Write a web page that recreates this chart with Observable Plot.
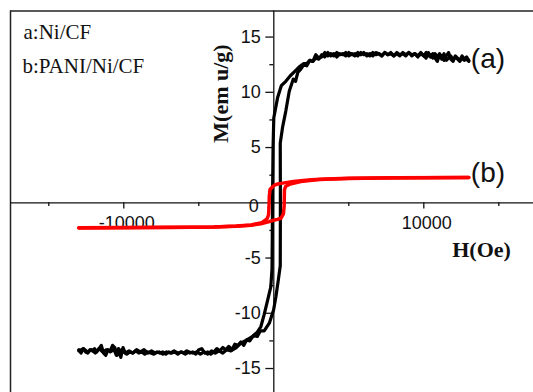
<!DOCTYPE html>
<html><head><meta charset="utf-8">
<script src="https://cdn.jsdelivr.net/npm/d3@7"></script>
<script src="https://cdn.jsdelivr.net/npm/@observablehq/plot@0.6"></script>
<style>html,body{margin:0;padding:0;background:#fff} svg{display:block}</style>
</head><body><div id="chart"></div>
<script>
// Sample a: Ni/CF hysteresis loop, [H (Oe), M (emu/g)]
const aDescending = [[13000,12.9],[12850,13.2],[12700,13.0],[12550,13.3],[12400,12.9],[12250,13.1],[12100,13.3],[11950,12.8],[11800,13.0],[11650,13.6],[11500,13.3],[11350,12.9],[11200,13.2],[11050,13.5],[10900,13.2],[10750,13.5],[10600,13.1],[10450,13.4],[10300,13.3],[10150,13.6],[10000,13.3],[9800,13.6],[9600,13.3],[9400,13.5],[9200,13.3],[9000,13.6],[8800,13.4],[8600,13.6],[8400,13.3],[8200,13.5],[8000,13.3],[7800,13.6],[7600,13.4],[7400,13.6],[7200,13.3],[7000,13.5],[6800,13.6],[6600,13.3],[6400,13.5],[6200,13.3],[6000,13.6],[5800,13.4],[5600,13.6],[5400,13.3],[5200,13.5],[5000,13.3],[4800,13.6],[4600,13.4],[4400,13.5],[4200,13.2],[4000,13.5],[3800,13.3],[3600,13.6],[3400,13.2],[3200,13.4],[3000,13.0],[2800,13.1],[2600,12.8],[2400,12.9],[2200,12.6],[2000,12.6],[1700,12.3],[1400,11.9],[1100,11.5],[800,11.0],[500,10.6],[250,9.5],[0,7.7],[-50,5.0],[-80,1.0],[-100,-3.0],[-120,-6.0],[-200,-7.6],[-410,-8.8],[-640,-10.1],[-860,-11.2],[-1100,-11.7],[-1410,-12.1],[-1800,-12.4],[-2190,-12.7],[-2500,-13.1],[-2860,-13.4],[-3150,-13.3],[-3400,-13.6],[-3650,-13.4],[-3900,-13.6],[-4150,-13.4],[-4400,-13.7],[-4650,-13.5],[-4900,-13.7],[-5150,-13.5],[-5400,-13.6],[-5650,-13.5],[-5900,-13.7],[-6150,-13.5],[-6400,-13.6],[-6650,-13.4],[-6900,-13.6],[-7150,-13.5],[-7400,-13.7],[-7650,-13.5],[-7900,-13.6],[-8150,-13.4],[-8400,-13.6],[-8650,-13.3],[-8900,-13.5],[-9150,-13.3],[-9400,-13.6],[-9650,-13.4],[-9900,-13.6],[-10050,-13.1],[-10200,-14.0],[-10350,-13.2],[-10500,-13.8],[-10650,-13.3],[-10900,-13.5],[-11150,-13.3],[-11400,-13.5],[-11650,-13.2],[-11900,-13.6],[-12150,-13.3],[-12400,-13.5],[-12700,-13.2],[-13000,-13.4]];
const aAscending = [[-13000,-13.3],[-12850,-13.6],[-12700,-13.2],[-12550,-13.5],[-12400,-13.6],[-12250,-13.3],[-12100,-13.4],[-11950,-13.2],[-11800,-13.5],[-11650,-13.2],[-11500,-12.9],[-11350,-13.6],[-11200,-13.8],[-11050,-13.3],[-10900,-13.4],[-10750,-12.9],[-10600,-13.1],[-10450,-13.8],[-10300,-13.6],[-10150,-13.3],[-10000,-13.5],[-9800,-13.7],[-9600,-13.5],[-9400,-13.6],[-9200,-13.4],[-9000,-13.6],[-8800,-13.5],[-8600,-13.7],[-8400,-13.5],[-8200,-13.6],[-8000,-13.7],[-7800,-13.5],[-7600,-13.6],[-7400,-13.5],[-7200,-13.7],[-7000,-13.5],[-6800,-13.6],[-6600,-13.5],[-6400,-13.7],[-6200,-13.5],[-6000,-13.6],[-5800,-13.4],[-5600,-13.6],[-5400,-13.5],[-5200,-13.7],[-5000,-13.3],[-4800,-13.2],[-4600,-13.6],[-4400,-13.5],[-4200,-13.7],[-4000,-13.5],[-3800,-13.2],[-3600,-13.4],[-3400,-13.1],[-3200,-13.3],[-3000,-13.0],[-2800,-13.3],[-2600,-12.8],[-2400,-12.9],[-2200,-12.6],[-2000,-12.9],[-1800,-12.4],[-1600,-12.5],[-1350,-12.0],[-1100,-12.1],[-900,-11.6],[-640,-11.6],[-300,-10.9],[-15,-9.7],[140,-8.5],[300,-7.0],[430,-5.7],[440,0],[430,5.4],[580,6.8],[800,8.3],[1030,10.1],[1300,11.2],[1450,11.0],[1600,11.8],[1800,12.1],[2000,12.5],[2200,12.4],[2400,12.9],[2600,12.8],[2800,13.4],[3000,13.1],[3200,13.2],[3400,13.6],[3600,13.3],[3800,13.5],[4000,13.3],[4200,13.6],[4400,13.4],[4600,13.5],[4800,13.3],[5000,13.6],[5200,13.4],[5400,13.5],[5600,13.3],[5800,13.6],[6000,13.4],[6200,13.5],[6400,13.3],[6600,13.6],[6800,13.4],[7000,13.5],[7200,13.3],[7400,13.6],[7600,13.4],[7800,13.5],[8000,13.3],[8200,13.6],[8400,13.4],[8600,13.5],[8800,13.3],[9000,13.6],[9200,13.4],[9400,13.5],[9600,13.2],[9800,13.5],[10000,13.3],[10150,13.1],[10300,13.6],[10450,13.2],[10600,13.5],[10750,13.1],[10900,12.8],[11050,13.4],[11200,13.0],[11350,13.5],[11500,12.9],[11650,13.1],[11800,13.3],[11950,12.9],[12100,13.2],[12250,13.0],[12400,12.8],[12550,13.1],[12700,12.9],[12850,13.0],[13000,12.8]];
// Sample b: PANI/Ni/CF hysteresis loop
const bDescending = [[13000,2.28],[10000,2.27],[7000,2.25],[5000,2.22],[3500,2.15],[2500,2.08],[1800,2.0],[1300,1.93],[900,1.85],[500,1.76],[250,1.7],[50,1.6],[-80,1.45],[-250,1.2],[-300,0.6],[-320,-0.4],[-350,-1.1],[-450,-1.45],[-800,-1.8],[-1500,-2.0],[-2500,-2.1],[-4000,-2.18],[-7000,-2.22],[-10000,-2.24],[-13000,-2.25]];
const bAscending = [[-13000,-2.27],[-10000,-2.26],[-7000,-2.24],[-4000,-2.2],[-2500,-2.13],[-1500,-2.03],[-860,-1.9],[-300,-1.7],[-80,-1.6],[250,-1.5],[470,-1.4],[640,-1.0],[690,-0.3],[700,0.5],[710,1.2],[800,1.5],[1100,1.7],[1800,1.92],[3000,2.1],[5000,2.2],[8000,2.26],[13000,2.28]];

const xDomain = [-17553, 17313];
const yDomain = [-17.17, 17.36];
const xMajorTicks = [-10000, 10000];
const xMinorTicks = [-15000, -5000, 5000, 15000];
const yMajorTicks = [-15, -10, -5, 5, 10, 15];
const yMinorTicks = [-12.5, -7.5, -2.5, 2.5, 7.5, 12.5];
const legendA = "a:Ni/CF";
const legendB = "b:PANI/Ni/CF";
const seriesLabels = [{label: "(a)", H: 13000, M: 12.97}, {label: "(b)", H: 13000, M: 2.7}];
const xTitle = "H(Oe)", yTitle = "M(em u/g)";

const toRows = (arr, branch) => arr.map(([H, M]) => ({H, M, branch}));
const aRows = [...toRows(aDescending, "down"), ...toRows(aAscending, "up")];
const bRows = [...toRows(bDescending, "down"), ...toRows(bAscending, "up")];

const sans = "'Liberation Sans', Arial, sans-serif";
const serif = "'Liberation Serif', 'Times New Roman', serif";

const chart = Plot.plot({
  width: 533, height: 392,
  marginLeft: 10, marginRight: 0, marginTop: 10.5, marginBottom: 0,
  x: {domain: xDomain, axis: null},
  y: {domain: yDomain, axis: null},
  style: {background: "white", overflow: "visible"},
  marks: [
    Plot.ruleY([yDomain[1]], {stroke: "#222", strokeWidth: 1.5}),
    Plot.ruleX([xDomain[0]], {stroke: "#222", strokeWidth: 1.5}),
    Plot.ruleY([0], {stroke: "#111", strokeWidth: 1.3}),
    Plot.ruleX([0], {stroke: "#111", strokeWidth: 1.3}),
    Plot.ruleX(xMajorTicks, {x: d => d, y1: 0, y2: -0.55, stroke: "#111", strokeWidth: 1.3}),
    Plot.ruleX(xMinorTicks, {x: d => d, y1: 0, y2: -0.33, stroke: "#111", strokeWidth: 1.3}),
    Plot.ruleY(yMajorTicks, {y: d => d, x1: -530, x2: 0, stroke: "#111", strokeWidth: 1.3}),
    Plot.ruleY(yMinorTicks, {y: d => d, x1: -265, x2: 0, stroke: "#111", strokeWidth: 1.3}),
    Plot.text(yMajorTicks, {x: 0, y: d => d, text: d => String(d), textAnchor: "end", dx: -13, fontSize: 18, fontFamily: sans, fill: "#111"}),
    Plot.text([0], {x: 0, y: 0, text: d => String(d), textAnchor: "end", dx: -15, dy: 3, fontSize: 18, fontFamily: sans, fill: "#111"}),
    Plot.text(xMajorTicks, {x: d => d, y: 0, text: d => String(d), lineAnchor: "middle", dy: 20, dx: 3, fontSize: 18, fontFamily: sans, fill: "#111"}),
    Plot.text([xTitle], {x: 11893, y: -4.92, text: d => d, textAnchor: "start", lineAnchor: "bottom", fontSize: 22, fontWeight: "bold", fontFamily: serif, fill: "#111"}),
    Plot.text([yTitle], {x: -3020, y: 9.89, text: d => d, rotate: -90, textAnchor: "middle", lineAnchor: "bottom", fontSize: 22, fontWeight: "bold", fontFamily: serif, fill: "#111"}),
    Plot.text([legendA], {frameAnchor: "top-left", text: d => d, dx: 13, dy: 27.5, textAnchor: "start", lineAnchor: "bottom", fontSize: 21, fontFamily: serif, fill: "#111"}),
    Plot.text([legendB], {frameAnchor: "top-left", text: d => d, dx: 12, dy: 61.5, textAnchor: "start", lineAnchor: "bottom", fontSize: 21, fontFamily: serif, fill: "#111"}),
    Plot.line(aRows, {x: "H", y: "M", z: "branch", stroke: "#000", strokeWidth: 3.2, strokeLinejoin: "round"}),
    Plot.line(bRows, {x: "H", y: "M", z: "branch", stroke: "#ff0000", strokeWidth: 3.5, strokeLinejoin: "round"}),
    Plot.text(seriesLabels, {x: "H", y: "M", text: "label", textAnchor: "start", lineAnchor: "middle", dx: 2, fontSize: 28, fontFamily: sans, fill: "#111"})
  ]
});
document.getElementById("chart").append(chart);
</script>
</body></html>
